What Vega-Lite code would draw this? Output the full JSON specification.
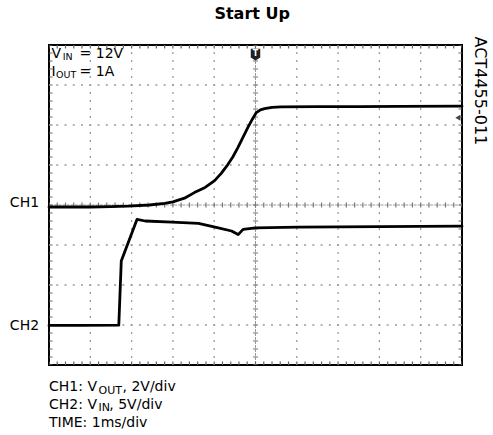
{
  "$schema": "https://vega.github.io/schema/vega-lite/v6.json",
  "width": 413,
  "height": 320,
  "autosize": {"type": "none"},
  "padding": {"left": 49, "top": 45, "right": 31, "bottom": 70},
  "background": "white",
  "config": {"view": {"stroke": "black", "strokeWidth": 2}, "font": "DejaVu Sans"},
  "datasets": {
    "one": [{"k": 1}],
    "gridX": [{"x": 1}, {"x": 2}, {"x": 3}, {"x": 4}, {"x": 6}, {"x": 7}, {"x": 8}, {"x": 9}],
    "gridY": [{"y": 1}, {"y": 2}, {"y": 3}, {"y": 5}, {"y": 6}, {"y": 7}],
    "traces": [
      {"ch": "CH1", "t": 0, "v": 3.95},
      {"ch": "CH1", "t": 0.5, "v": 3.95},
      {"ch": "CH1", "t": 1.0, "v": 3.95},
      {"ch": "CH1", "t": 1.5, "v": 3.96},
      {"ch": "CH1", "t": 1.91, "v": 3.97},
      {"ch": "CH1", "t": 2.43, "v": 4.0},
      {"ch": "CH1", "t": 2.8, "v": 4.04},
      {"ch": "CH1", "t": 3.0, "v": 4.08},
      {"ch": "CH1", "t": 3.28, "v": 4.17},
      {"ch": "CH1", "t": 3.52, "v": 4.31},
      {"ch": "CH1", "t": 3.78, "v": 4.44},
      {"ch": "CH1", "t": 4.01, "v": 4.61},
      {"ch": "CH1", "t": 4.17, "v": 4.79},
      {"ch": "CH1", "t": 4.33, "v": 5.01},
      {"ch": "CH1", "t": 4.45, "v": 5.2},
      {"ch": "CH1", "t": 4.57, "v": 5.43},
      {"ch": "CH1", "t": 4.69, "v": 5.68},
      {"ch": "CH1", "t": 4.81, "v": 5.93},
      {"ch": "CH1", "t": 4.92, "v": 6.14},
      {"ch": "CH1", "t": 5.02, "v": 6.31},
      {"ch": "CH1", "t": 5.12, "v": 6.38},
      {"ch": "CH1", "t": 5.22, "v": 6.41},
      {"ch": "CH1", "t": 5.4, "v": 6.44},
      {"ch": "CH1", "t": 5.62, "v": 6.455},
      {"ch": "CH1", "t": 6.5, "v": 6.46},
      {"ch": "CH1", "t": 7.5, "v": 6.46},
      {"ch": "CH1", "t": 8.5, "v": 6.465},
      {"ch": "CH1", "t": 10, "v": 6.47},
      {"ch": "CH2", "t": 0, "v": 0.99},
      {"ch": "CH2", "t": 0.8, "v": 0.99},
      {"ch": "CH2", "t": 1.69, "v": 0.995},
      {"ch": "CH2", "t": 1.75, "v": 2.6},
      {"ch": "CH2", "t": 2.13, "v": 3.64},
      {"ch": "CH2", "t": 2.33, "v": 3.6},
      {"ch": "CH2", "t": 2.98, "v": 3.57},
      {"ch": "CH2", "t": 3.62, "v": 3.54},
      {"ch": "CH2", "t": 4.1, "v": 3.43},
      {"ch": "CH2", "t": 4.42, "v": 3.35},
      {"ch": "CH2", "t": 4.58, "v": 3.26},
      {"ch": "CH2", "t": 4.7, "v": 3.39},
      {"ch": "CH2", "t": 5.0, "v": 3.43},
      {"ch": "CH2", "t": 6.03, "v": 3.445},
      {"ch": "CH2", "t": 8.0, "v": 3.46},
      {"ch": "CH2", "t": 10, "v": 3.47}
    ],
    "labels": [
      {"t": "V", "x": 0.06, "y": 7.68},
      {"t": "= 12V", "x": 0.74, "y": 7.68},
      {"t": "I", "x": 0.06, "y": 7.23},
      {"t": "= 1A", "x": 0.74, "y": 7.23},
      {"t": "CH1: V", "x": 0.0, "y": -0.66},
      {"t": ", 2V/div", "x": 1.78, "y": -0.66},
      {"t": "CH2: V", "x": 0.0, "y": -1.10},
      {"t": ", 5V/div", "x": 1.46, "y": -1.10},
      {"t": "TIME: 1ms/div", "x": 0.0, "y": -1.54}
    ],
    "subsTop": [
      {"t": "IN", "x": 0.33, "y": 7.62},
      {"t": "OUT", "x": 0.17, "y": 7.17}
    ],
    "subsBottom": [
      {"t": "OUT", "x": 1.2, "y": -0.72},
      {"t": "IN", "x": 1.2, "y": -1.16}
    ],
    "channels": [
      {"t": "CH1", "x": -0.24, "y": 3.94},
      {"t": "CH2", "x": -0.24, "y": 0.87}
    ],
    "heading": [{"t": "Start Up", "x": 4.92, "y": 8.64}],
    "sideNote": [{"t": "ACT4455-011", "x": 10.44, "y": 8.21}],
    "trigger": [{"t": "T", "x": 5, "y": 7.76}],
    "level": [{"x": 9.9, "y": 6.18}]
  },
  "layer": [
    {
      "data": {"name": "gridY"},
      "mark": {"type": "rule", "color": "#9a9a9a", "strokeWidth": 1.3, "strokeDash": [2, 6.26], "strokeDashOffset": 1},
      "encoding": {"y": {"field": "y", "type": "quantitative", "scale": {"domain": [0, 8], "nice": false, "zero": false}, "axis": null}}
    },
    {
      "data": {"name": "gridX"},
      "mark": {"type": "rule", "color": "#9a9a9a", "strokeWidth": 1.3, "strokeDash": [2, 6], "strokeDashOffset": 1},
      "encoding": {"x": {"field": "x", "type": "quantitative", "scale": {"domain": [0, 10], "nice": false, "zero": false}, "axis": null}}
    },
    {
      "data": {"name": "one"},
      "mark": {"type": "rule", "color": "#999", "strokeWidth": 1, "strokeDash": [3, 1.13]},
      "encoding": {"y": {"datum": 4, "type": "quantitative", "scale": {"domain": [0, 8], "nice": false, "zero": false}, "axis": null}}
    },
    {
      "data": {"name": "one"},
      "mark": {"type": "rule", "color": "#999", "strokeWidth": 1, "strokeDash": [3, 1]},
      "encoding": {"x": {"datum": 5, "type": "quantitative", "scale": {"domain": [0, 10], "nice": false, "zero": false}, "axis": null}}
    },
    {
      "data": {"name": "one"},
      "mark": {"type": "rule", "color": "#777", "strokeWidth": 5, "strokeDash": [1.2, 7.06], "strokeDashOffset": 0.6},
      "encoding": {"y": {"datum": 4, "type": "quantitative", "scale": {"domain": [0, 8], "nice": false, "zero": false}, "axis": null}}
    },
    {
      "data": {"name": "one"},
      "mark": {"type": "rule", "color": "#777", "strokeWidth": 5, "strokeDash": [1.2, 6.8], "strokeDashOffset": 0.6},
      "encoding": {"x": {"datum": 5, "type": "quantitative", "scale": {"domain": [0, 10], "nice": false, "zero": false}, "axis": null}}
    },
    {
      "data": {"name": "one"},
      "mark": {"type": "rule", "color": "#666", "strokeWidth": 7, "strokeDash": [1.2, 7.06], "strokeDashOffset": 0.6, "clip": true},
      "encoding": {"y": {"datum": 0, "type": "quantitative", "scale": {"domain": [0, 8], "nice": false, "zero": false}, "axis": null}}
    },
    {
      "data": {"name": "one"},
      "mark": {"type": "rule", "color": "#666", "strokeWidth": 7, "strokeDash": [1.2, 7.06], "strokeDashOffset": 0.6, "clip": true},
      "encoding": {"y": {"datum": 8, "type": "quantitative", "scale": {"domain": [0, 8], "nice": false, "zero": false}, "axis": null}}
    },
    {
      "data": {"name": "one"},
      "mark": {"type": "rule", "color": "#666", "strokeWidth": 7, "strokeDash": [1.2, 6.8], "strokeDashOffset": 0.6, "clip": true},
      "encoding": {"x": {"datum": 0, "type": "quantitative", "scale": {"domain": [0, 10], "nice": false, "zero": false}, "axis": null}}
    },
    {
      "data": {"name": "one"},
      "mark": {"type": "rule", "color": "#666", "strokeWidth": 7, "strokeDash": [1.2, 6.8], "strokeDashOffset": 0.6, "clip": true},
      "encoding": {"x": {"datum": 10, "type": "quantitative", "scale": {"domain": [0, 10], "nice": false, "zero": false}, "axis": null}}
    },
    {
      "data": {"name": "traces"},
      "mark": {"type": "line", "color": "black", "strokeWidth": 2.8, "strokeJoin": "round", "strokeCap": "round"},
      "encoding": {
        "x": {"field": "t", "type": "quantitative", "scale": {"domain": [0, 10], "nice": false, "zero": false}, "axis": null},
        "y": {"field": "v", "type": "quantitative", "scale": {"domain": [0, 8], "nice": false, "zero": false}, "axis": null},
        "detail": {"field": "ch"}
      }
    },
    {
      "data": {"name": "trigger"},
      "mark": {"type": "point", "filled": true, "color": "#222", "opacity": 1, "size": 140, "shape": "M-0.8,-1 L0.8,-1 L0.8,0.5 L0,1 L-0.8,0.5 Z"},
      "encoding": {
        "x": {"field": "x", "type": "quantitative", "scale": {"domain": [0, 10], "nice": false, "zero": false}, "axis": null},
        "y": {"field": "y", "type": "quantitative", "scale": {"domain": [0, 8], "nice": false, "zero": false}, "axis": null}
      }
    },
    {
      "data": {"name": "trigger"},
      "mark": {"type": "text", "color": "white", "fontSize": 8, "fontWeight": "bold", "align": "center", "baseline": "middle", "dy": -1},
      "encoding": {
        "x": {"field": "x", "type": "quantitative", "scale": {"domain": [0, 10], "nice": false, "zero": false}, "axis": null},
        "y": {"field": "y", "type": "quantitative", "scale": {"domain": [0, 8], "nice": false, "zero": false}, "axis": null},
        "text": {"field": "t"}
      }
    },
    {
      "data": {"name": "level"},
      "mark": {"type": "point", "filled": true, "color": "#444", "opacity": 1, "size": 35, "shape": "triangle-left"},
      "encoding": {
        "x": {"field": "x", "type": "quantitative", "scale": {"domain": [0, 10], "nice": false, "zero": false}, "axis": null},
        "y": {"field": "y", "type": "quantitative", "scale": {"domain": [0, 8], "nice": false, "zero": false}, "axis": null}
      }
    },
    {
      "data": {"name": "heading"},
      "mark": {"type": "text", "font": "DejaVu Sans", "fontSize": 16, "fontWeight": "bold", "color": "black", "align": "center", "baseline": "alphabetic"},
      "encoding": {
        "x": {"field": "x", "type": "quantitative", "scale": {"domain": [0, 10], "nice": false, "zero": false}, "axis": null},
        "y": {"field": "y", "type": "quantitative", "scale": {"domain": [0, 8], "nice": false, "zero": false}, "axis": null},
        "text": {"field": "t"}
      }
    },
    {
      "data": {"name": "labels"},
      "mark": {"type": "text", "font": "DejaVu Sans", "fontSize": 14, "color": "black", "align": "left", "baseline": "alphabetic"},
      "encoding": {
        "x": {"field": "x", "type": "quantitative", "scale": {"domain": [0, 10], "nice": false, "zero": false}, "axis": null},
        "y": {"field": "y", "type": "quantitative", "scale": {"domain": [0, 8], "nice": false, "zero": false}, "axis": null},
        "text": {"field": "t"}
      }
    },
    {
      "data": {"name": "subsTop"},
      "mark": {"type": "text", "font": "DejaVu Sans", "fontSize": 9.5, "color": "black", "align": "left", "baseline": "alphabetic"},
      "encoding": {
        "x": {"field": "x", "type": "quantitative", "scale": {"domain": [0, 10], "nice": false, "zero": false}, "axis": null},
        "y": {"field": "y", "type": "quantitative", "scale": {"domain": [0, 8], "nice": false, "zero": false}, "axis": null},
        "text": {"field": "t"}
      }
    },
    {
      "data": {"name": "subsBottom"},
      "mark": {"type": "text", "font": "DejaVu Sans", "fontSize": 11, "color": "black", "align": "left", "baseline": "alphabetic"},
      "encoding": {
        "x": {"field": "x", "type": "quantitative", "scale": {"domain": [0, 10], "nice": false, "zero": false}, "axis": null},
        "y": {"field": "y", "type": "quantitative", "scale": {"domain": [0, 8], "nice": false, "zero": false}, "axis": null},
        "text": {"field": "t"}
      }
    },
    {
      "data": {"name": "channels"},
      "mark": {"type": "text", "font": "DejaVu Sans", "fontSize": 14, "color": "black", "align": "right", "baseline": "alphabetic"},
      "encoding": {
        "x": {"field": "x", "type": "quantitative", "scale": {"domain": [0, 10], "nice": false, "zero": false}, "axis": null},
        "y": {"field": "y", "type": "quantitative", "scale": {"domain": [0, 8], "nice": false, "zero": false}, "axis": null},
        "text": {"field": "t"}
      }
    },
    {
      "data": {"name": "sideNote"},
      "mark": {"type": "text", "font": "DejaVu Sans", "fontSize": 16, "color": "black", "align": "left", "baseline": "middle", "angle": 90},
      "encoding": {
        "x": {"field": "x", "type": "quantitative", "scale": {"domain": [0, 10], "nice": false, "zero": false}, "axis": null},
        "y": {"field": "y", "type": "quantitative", "scale": {"domain": [0, 8], "nice": false, "zero": false}, "axis": null},
        "text": {"field": "t"}
      }
    }
  ]
}
